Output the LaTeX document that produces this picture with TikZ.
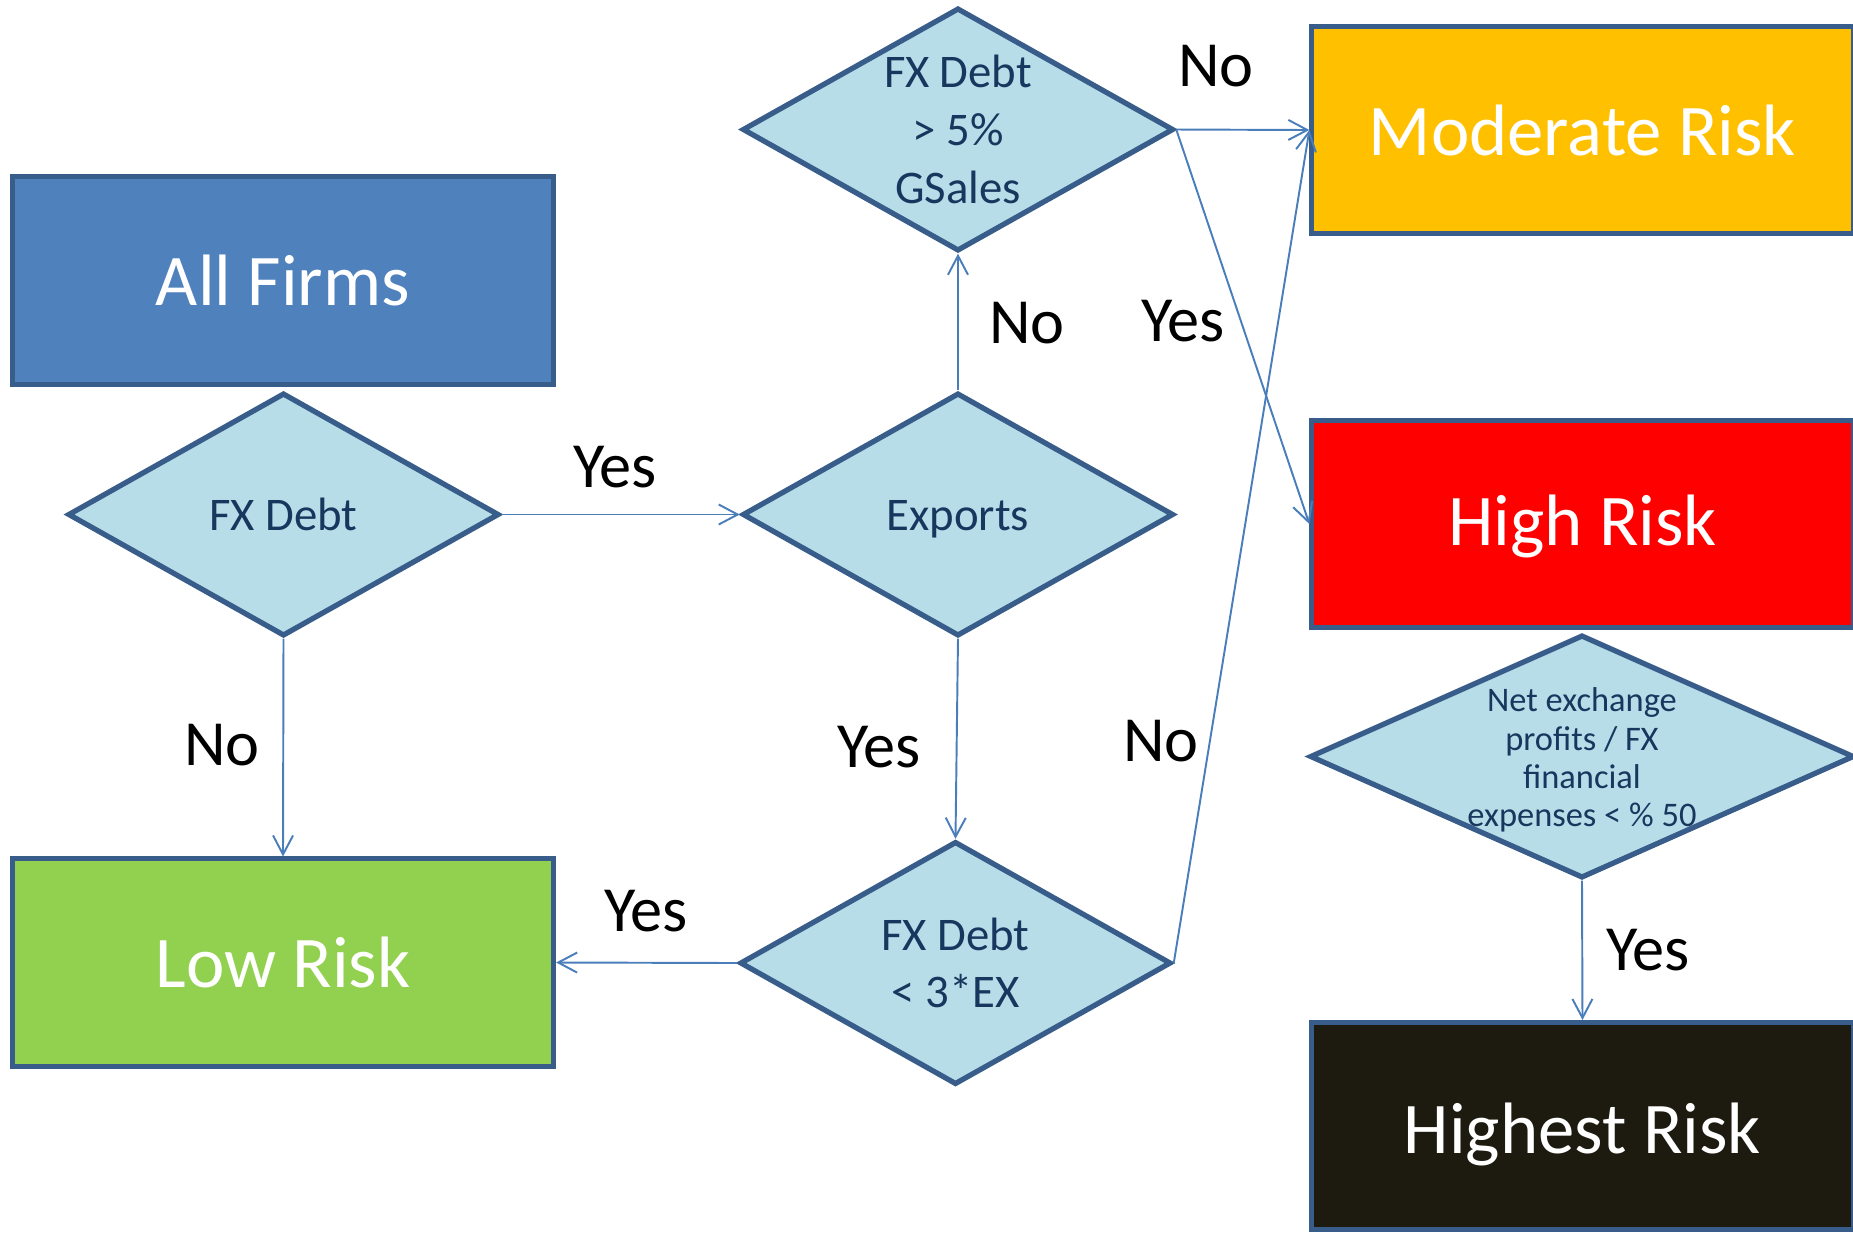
\documentclass[tikz,border=0pt]{standalone}
\usepackage{fontspec}
\setmainfont{Carlito}
\usetikzlibrary{shapes.geometric,arrows.meta}
\definecolor{bord}{HTML}{385D8A}
\definecolor{lcol}{HTML}{4A7EBB}
\definecolor{dfill}{HTML}{B7DEE8}
\definecolor{dtxt}{HTML}{17375E}
\definecolor{cAll}{HTML}{4F81BD}
\definecolor{cLow}{HTML}{92D050}
\definecolor{cMod}{HTML}{FFC000}
\definecolor{cHigh}{HTML}{FF0000}
\definecolor{cHighest}{HTML}{1D1B10}
\begin{document}
\begin{tikzpicture}[x=0.01cm,y=-0.01cm,
  box/.style={draw=bord, line width=1.4pt, minimum width=5.41cm, minimum height=2.07cm,
    inner sep=0pt, text=white, font=\fontsize{20.7}{24}\selectfont},
  btext/.style={inner sep=0pt, text=white, font=\fontsize{20.7}{24}\selectfont},
  dia/.style={diamond, draw=bord, line width=1.5pt, fill=dfill, inner sep=0pt,
    minimum width=4.31cm, minimum height=2.43cm},
  dtext/.style={text=dtxt, align=center, font=\fontsize{13.3}{16.4}\selectfont, inner sep=0pt},
  conn/.style={draw=lcol, line width=0.55pt, -{Straight Barb[length=5.4pt,width=5.7pt]}},
  lab/.style={font=\fontsize{18.3}{22}\selectfont, inner sep=0pt}]
\useasboundingbox (0,0) rectangle (1853,1232);

% boxes
\node[box, fill=cAll] (allf) at (283,280.5) {All Firms};
\node[box, fill=cLow] (low) at (283,962.5) {Low Risk};
\node[box, fill=cMod] (mod) at (1582.5,130) {Moderate Risk};
\node[box, fill=cHigh] (high) at (1582.5,524) {};
\node[btext] (hight) at ([yshift=-0.7pt]high.center) {High Risk};
\node[box, fill=cHighest] (highest) at (1582.5,1126) {};
\node[btext] (highestt) at ([yshift=-2.3pt]highest.center) {Highest Risk};

% diamonds
\node[dia] (d1) at (283.5,514.5) {};
\node[dtext] (d1t) at (d1) {FX Debt};
\node[dia] (d2) at (958,514.5) {};
\node[dtext, yshift=-1.3pt] (d2t) at (d2) {Exports};
\node[dia] (d3) at (958,129.5) {};
\node[dtext] (d3t) at (d3) {FX Debt\\ > 5\%\\ GSales};
\node[dia] (d4) at (955.5,963) {};
\node[dtext] (d4t) at (d4) {FX Debt\\ < 3*EX};
\node[dia, minimum width=5.44cm, minimum height=2.43cm] (d5) at (1582,756.5) {};
\node[dtext, font=\fontsize{9.8}{10.9}\selectfont, yshift=-1pt] (d5t) at (d5) {Net exchange\\ profits / FX\\ financial\\ expenses < \% 50};

% connectors
\draw[conn] (d1.east) -- (d2.west);
\draw[conn] (d1.south) -- (low.north);
\draw[conn] (d2.north) -- (d3.south);
\draw[conn] (d2.south) -- (d4.north);
\draw[conn] (d4.west) -- (low.east);
\draw[conn] (d4.east) -- (mod.west);
\draw[conn] (d3.east) -- (mod.west);
\draw[conn] (d3.east) -- (high.west);
\draw[conn] (d5.south) -- (highest.north);

% labels
\node[lab] (l1) at (615,467) {Yes};
\node[lab] (l2) at (222,745) {No};
\node[lab] (l3) at (1027,323) {No};
\node[lab] (l4) at (879,747) {Yes};
\node[lab] (l5) at (646,911) {Yes};
\node[lab] (l6) at (1161,741) {No};
\node[lab] (l7) at (1216,66) {No};
\node[lab] (l8) at (1183,321) {Yes};
\node[lab] (l9) at (1648,950) {Yes};
\end{tikzpicture}
\end{document}
